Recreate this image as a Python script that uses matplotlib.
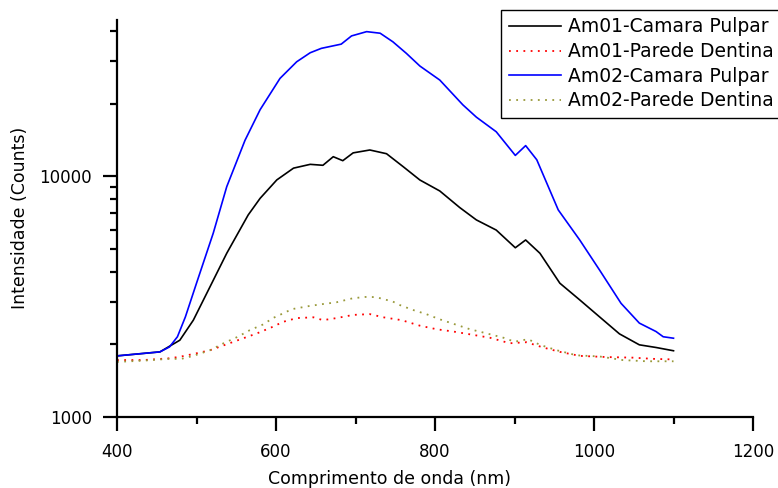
import numpy as np
import matplotlib
matplotlib.use("Agg")
import matplotlib.pyplot as plt
import matplotlib.transforms as mtransforms
from matplotlib.ticker import FixedLocator, NullFormatter

plt.rcParams['font.family'] = ['DejaVu Sans']

# Am01 - Camara Pulpar (black)
am01_cp_x = [400, 454, 479, 496, 517, 538, 565, 580, 601, 622, 643, 659, 672, 684, 697,
             718, 739, 760, 781, 806, 831, 852, 877, 901, 914, 932, 957, 982, 1007,
             1032, 1057, 1078, 1100]
am01_cp_y = [1790, 1860, 2080, 2520, 3470, 4780, 6900, 8090, 9650, 10800, 11200, 11100,
             12050, 11600, 12500, 12850, 12400, 10950, 9640, 8680, 7410, 6580, 5970, 5040,
             5430, 4780, 3590, 3060, 2600, 2210, 1990, 1940, 1880]

# Am01 - Parede Dentina (red dotted)
am01_pd_x = [400, 433, 467, 481, 500, 517, 536, 559, 576, 594, 609, 626, 647, 659, 676,
             697, 718, 735, 758, 781, 802, 823, 844, 869, 894, 915, 936, 957, 982, 1016,
             1049, 1074, 1100]
am01_pd_y = [1720, 1720, 1750, 1780, 1835, 1890, 1990, 2120, 2220, 2350, 2480, 2570, 2590,
             2520, 2570, 2650, 2670, 2590, 2520, 2390, 2310, 2260, 2200, 2130, 2020, 2040,
             1940, 1860, 1790, 1770, 1760, 1740, 1730]

# Am02 - Camara Pulpar (blue)
am02_cp_x = [400, 454, 466, 476, 486, 500, 521, 538, 561, 580, 605, 626, 643, 657, 682, 695,
             714, 731, 747, 764, 781, 806, 835, 852, 877, 901, 914, 928, 955, 982, 1007,
             1034, 1057, 1078, 1087, 1100]
am02_cp_y = [1790, 1860, 1950, 2150, 2600, 3590, 5790, 9040, 14100, 18900, 25500, 29900,
             32600, 34000, 35400, 38300, 39900, 39300, 36200, 32400, 28700, 25100, 19800,
             17600, 15300, 12200, 13400, 11700, 7240, 5430, 4070, 2960, 2450, 2260, 2150,
             2120]

# Am02 - Parede Dentina (olive dotted)
am02_pd_x = [400, 433, 465, 481, 496, 517, 534, 552, 567, 584, 596, 609, 620, 643, 659,
             676, 697, 714, 726, 747, 756, 772, 789, 806, 827, 844, 865, 886, 900, 917,
             932, 953, 978, 1007, 1036, 1066, 1100]
am02_pd_y = [1690, 1710, 1740, 1740, 1790, 1890, 2020, 2150, 2290, 2420, 2570, 2690, 2800,
             2890, 2940, 2990, 3110, 3150, 3140, 3010, 2910, 2780, 2670, 2540, 2410, 2310,
             2220, 2130, 2050, 2100, 1990, 1890, 1800, 1780, 1720, 1700, 1700]

labels = ['Am01-Camara Pulpar', 'Am01-Parede Dentina',
          'Am02-Camara Pulpar', 'Am02-Parede Dentina']

fig = plt.figure(figsize=(7.78, 4.88), dpi=100)
ax = fig.add_axes([0.1504, 0.1461, 0.8175, 0.8129])

ax.plot(am01_cp_x, am01_cp_y, color='black', lw=1.2, label=labels[0])
ax.plot(am01_pd_x, am01_pd_y, color='red', lw=1.3, ls=(0, (1, 3)), label=labels[1])
ax.plot(am02_cp_x, am02_cp_y, color='#0000ff', lw=1.2, label=labels[2])
ax.plot(am02_pd_x, am02_pd_y, color='#99993a', lw=1.3, ls=(0, (1, 3)), label=labels[3])

ax.set_yscale('log')
ax.set_xlim(400, 1200)
ax.set_ylim(1000, 44600)
ax.set_xticks([400, 600, 800, 1000, 1200])
ax.xaxis.set_minor_locator(FixedLocator([500, 700, 900, 1100]))
ax.set_yticks([1000, 10000])
ax.set_yticklabels(['1000', '10000'])
ax.yaxis.set_minor_locator(FixedLocator([2000, 3000, 4000, 5000, 6000, 7000, 8000, 9000,
                                         20000, 30000, 40000]))
ax.yaxis.set_minor_formatter(NullFormatter())

for s in ['top', 'right']:
    ax.spines[s].set_visible(False)
for s in ['left', 'bottom']:
    ax.spines[s].set_linewidth(1.6)

ax.tick_params(which='major', direction='out', length=10, width=1.6, labelsize=12)
ax.tick_params(which='minor', direction='out', length=5, width=1.6)
ax.tick_params(axis='x', which='major', pad=9)
ax.tick_params(axis='y', which='major', pad=8)

ax.set_xlabel('Comprimento de onda (nm)', fontsize=12.5, va='center')
ax.xaxis.set_label_coords(0.5, 1 - 479 / 488, transform=fig.transFigure)
ax.set_ylabel('Intensidade (Counts)', fontsize=12.5, va='center')
ax.yaxis.set_label_coords(
    20 / 778, 0.5,
    transform=mtransforms.blended_transform_factory(fig.transFigure, ax.transAxes))

leg = fig.legend(loc='upper left', bbox_to_anchor=(501 / 778, 1 - 10 / 488),
                 bbox_transform=fig.transFigure, fontsize=13.5, frameon=True,
                 fancybox=False, edgecolor='black', framealpha=1,
                 handlelength=2.8, handletextpad=0.4, labelspacing=0.3,
                 borderpad=0.4, borderaxespad=0)
leg.get_frame().set_linewidth(1.0)

fig.savefig('out.png', dpi=100)
